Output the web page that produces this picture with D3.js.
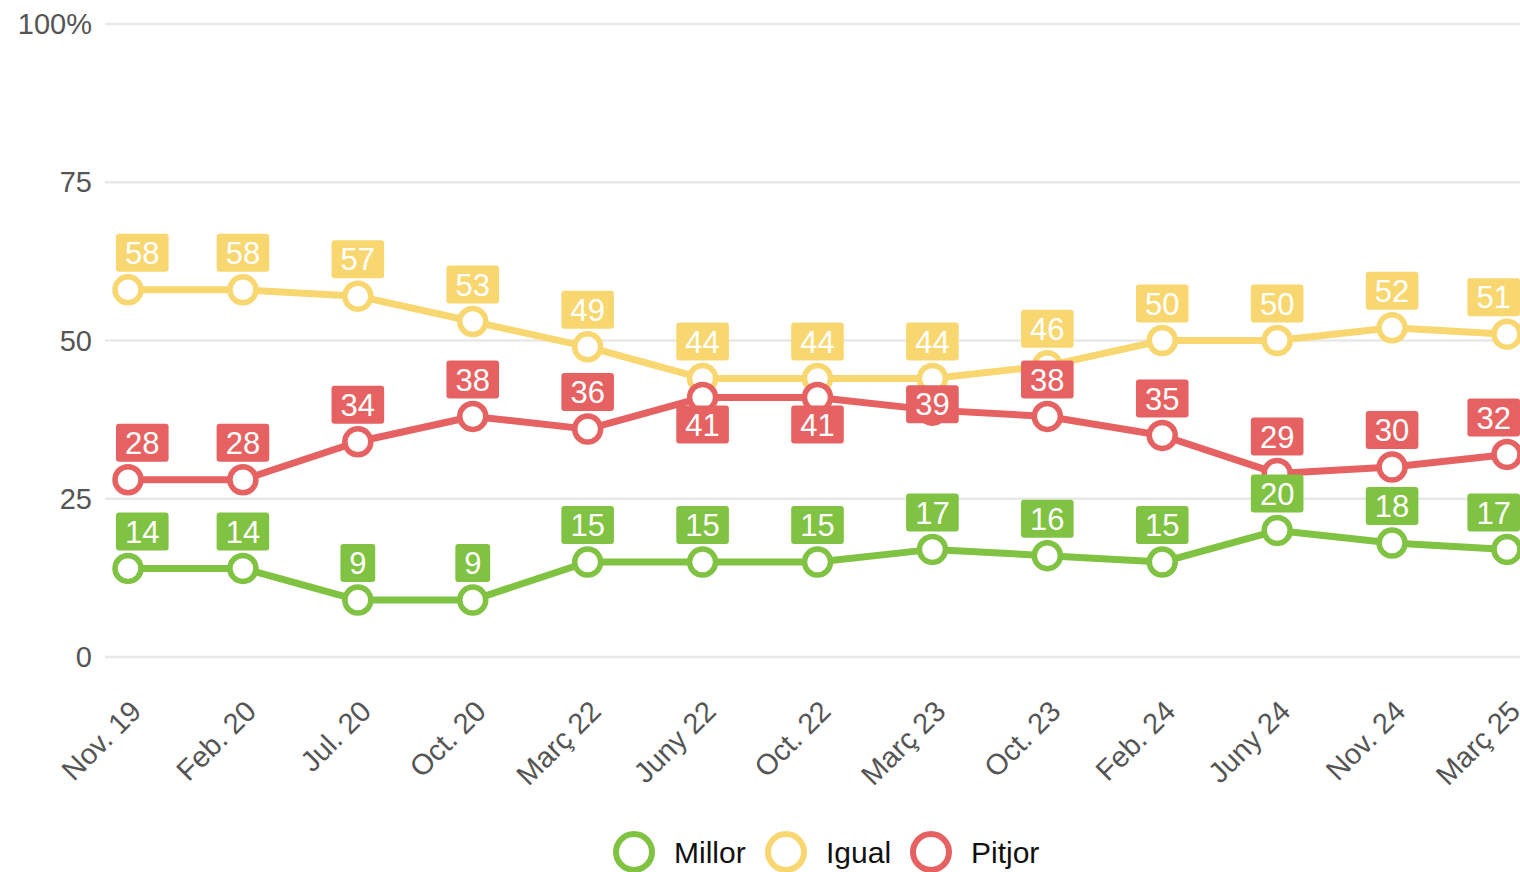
<!DOCTYPE html>
<html>
<head>
<meta charset="utf-8">
<script src="https://cdn.jsdelivr.net/npm/d3@7"></script>
<style>
  body { margin: 0; background: #fff; }
  svg { display: block; font-family: "Liberation Sans", Arial, sans-serif; }
</style>
</head>
<body>
<div id="chart"></div>
<script>
var width = 1520, height = 872;

var categories = ["Nov. 19", "Feb. 20", "Jul. 20", "Oct. 20", "Març 22", "Juny 22", "Oct. 22",
                  "Març 23", "Oct. 23", "Feb. 24", "Juny 24", "Nov. 24", "Març 25"];
var millor = [14, 14, 9, 9, 15, 15, 15, 17, 16, 15, 20, 18, 17];
var igual  = [58, 58, 57, 53, 49, 44, 44, 44, 46, 50, 50, 52, 51];
var pitjor = [28, 28, 34, 38, 36, 41, 41, 39, 38, 35, 29, 30, 32];
// where each data label sits: a = above, b = below, c = on the point
var pitjorLabelPos = ["a","a","a","a","a","b","b","c","a","a","a","a","a"];
var yTicks = [0, 25, 50, 75, 100];
var seriesNames = ["Millor", "Igual", "Pitjor"];
var colors = ["#80c241", "#f8d771", "#e66262"];

var series = [
  { name: seriesNames[0], values: millor, color: colors[0], pos: null },
  { name: seriesNames[1], values: igual, color: colors[1], pos: null },
  { name: seriesNames[2], values: pitjor, color: colors[2], pos: pitjorLabelPos }
];

var plotLeft = 105, plotRight = 1520;

var svg = d3.select("#chart").append("svg")
    .attr("width", width)
    .attr("height", height);

var x = d3.scalePoint().domain(categories).range([128, 1507]);
var y = d3.scaleLinear().domain([0, 100]).range([657, 24]);

// grid
svg.append("g").selectAll("line")
    .data(yTicks)
    .enter().append("line")
    .attr("x1", plotLeft).attr("x2", plotRight)
    .attr("y1", function(d) { return y(d); })
    .attr("y2", function(d) { return y(d); })
    .attr("stroke", "#e8e8e8")
    .attr("stroke-width", 2.5);

svg.append("g").selectAll("text")
    .data(yTicks)
    .enter().append("text")
    .attr("x", 92)
    .attr("y", function(d) { return y(d); })
    .attr("dy", "0.35em")
    .attr("text-anchor", "end")
    .attr("font-size", "29px")
    .attr("fill", "#555")
    .text(function(d) { return d == 100 ? "100%" : d; });

// x labels
svg.append("g").selectAll("text")
    .data(categories)
    .enter().append("text")
    .attr("transform", function(d) { return "translate(" + (x(d) + 15) + ",713) rotate(-45)"; })
    .attr("text-anchor", "end")
    .attr("font-size", "29px")
    .attr("fill", "#555")
    .text(function(d) { return d; });

var line = d3.line()
    .x(function(d, i) { return x(categories[i]); })
    .y(function(d) { return y(d); });

series.forEach(function(s) {
  var g = svg.append("g");
  g.append("path")
    .datum(s.values)
    .attr("d", line)
    .attr("fill", "none")
    .attr("stroke", s.color)
    .attr("stroke-width", 7)
    .attr("stroke-linejoin", "round");
  g.selectAll("circle")
    .data(s.values)
    .enter().append("circle")
    .attr("cx", function(d, i) { return x(categories[i]); })
    .attr("cy", function(d) { return y(d); })
    .attr("r", 13)
    .attr("fill", "#fff")
    .attr("stroke", s.color)
    .attr("stroke-width", 5.5);
});

// data labels
var boxH = 38;
series.forEach(function(s) {
  var g = svg.append("g");
  s.values.forEach(function(v, i) {
    var txt = String(v);
    var w = txt.length * 17.8 + 17;
    var cx = x(categories[i]);
    cx = Math.max(plotLeft + 11 + w / 2, Math.min(plotRight - w / 2, cx));
    var p = s.pos ? s.pos[i] : "a";
    var cy = y(v) - 37;
    if (p == "b") cy = y(v) + 27;
    if (p == "c") cy = y(v) - 6;
    g.append("rect")
      .attr("x", cx - w / 2)
      .attr("y", cy - boxH / 2)
      .attr("width", w)
      .attr("height", boxH)
      .attr("rx", 3)
      .attr("fill", s.color);
    g.append("text")
      .attr("x", cx)
      .attr("y", cy)
      .attr("dy", "0.36em")
      .attr("text-anchor", "middle")
      .attr("font-size", "31px")
      .attr("fill", "#fff")
      .text(txt);
  });
});

// legend
var legendX = [634, 786, 931];
var legend = svg.append("g").selectAll("g")
    .data(series)
    .enter().append("g")
    .attr("transform", function(d, i) { return "translate(" + legendX[i] + ",852)"; });
legend.append("circle")
    .attr("r", 18)
    .attr("fill", "#fff")
    .attr("stroke", function(d) { return d.color; })
    .attr("stroke-width", 6);
legend.append("text")
    .attr("x", 40)
    .attr("dy", "0.35em")
    .attr("font-size", "30px")
    .attr("fill", "#111")
    .text(function(d) { return d.name; });
</script>
</body>
</html>
